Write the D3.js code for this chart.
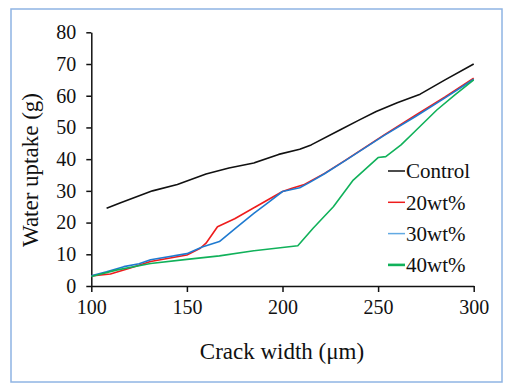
<!DOCTYPE html>
<meta charset="utf-8">
<style>
  body { margin: 0; background: #fff; }
  svg { display: block; }
  .axis path, .axis line { stroke: #111; stroke-width: 1.5; }
  .series { fill: none; stroke-width: 1.6; stroke-linejoin: round; }
</style>
<script src="https://d3js.org/d3.v7.min.js"></script>
<body>
<svg width="521" height="389"></svg>
</body>
<script>
// values
const seriesNames = ['Control', '20wt%', '30wt%', '40wt%'];
const colors = ['#111111', '#ee1c1c', '#1f7ad0', '#10b15a'];
const legendColors = ['#111111', '#ee1c1c', '#62aae3', '#10b15a'];
const xTicks = [100, 150, 200, 250, 300];
const yTicks = [0, 10, 20, 30, 40, 50, 60, 70, 80];

const control = [[108, 24.5], [115, 26.2], [132, 30], [145, 32], [160, 35.3], [172, 37.2], [185, 38.8], [198, 41.5], [209, 43.1], [215, 44.5], [230, 49.2], [240, 52.3], [249, 55], [260, 57.8], [272, 60.5], [285, 65], [300, 70]];
const wt20 = [[100, 3.2], [110, 3.8], [120, 5.6], [131, 7.7], [150, 9.8], [157, 11.9], [160, 13.5], [166, 18.7], [175, 21.2], [186, 25], [200, 29.8], [205, 30.8], [211, 31.9], [222, 35.5], [233, 39.7], [253, 47.6], [270, 54], [285, 59.6], [300, 65.5]];
const wt30 = [[100, 3.2], [108, 4.5], [117, 6.1], [125, 7], [131, 8.3], [150, 10.2], [158, 12.3], [167, 14], [176, 18.5], [185, 22.9], [193, 26.5], [200, 29.8], [209, 31], [214, 32.6], [222, 35.4], [233, 39.6], [253, 47.4], [270, 53.6], [285, 59.3], [300, 65.2]];
const wt40 = [[100, 3], [113, 5], [131, 7.1], [150, 8.4], [167, 9.5], [185, 11.1], [208, 12.7], [216, 18.2], [226.6, 25], [237, 33.4], [250, 40.5], [254, 40.8], [262, 44.5], [270, 49.2], [280.7, 55.5], [290, 60.2], [300, 65]];
const allSeries = [control, wt20, wt30, wt40];

const serif = 'Liberation Serif';

const svg = d3.select('svg');

// outer frame
svg.append('rect')
    .attr('x', 11).attr('y', 9)
    .attr('width', 491).attr('height', 373)
    .attr('fill', 'none')
    .attr('stroke', '#8fb4e3')
    .attr('stroke-width', 1.5);

const x = d3.scaleLinear().domain([100, 300]).range([91.3, 473.7]);
const y = d3.scaleLinear().domain([0, 80]).range([286, 32.3]);

svg.append('g')
    .attr('class', 'axis')
    .attr('transform', 'translate(0,286)')
    .call(d3.axisBottom(x).tickValues(xTicks).tickSize(6).tickSizeOuter(0).tickPadding(5))
    .attr('font-family', serif)
    .attr('font-size', 20)
    .selectAll('text').attr('dy', '0.85em').attr('fill', '#111');

svg.append('g')
    .attr('class', 'axis')
    .attr('transform', 'translate(91.3,0)')
    .call(d3.axisLeft(y).tickValues(yTicks).tickSize(5).tickSizeOuter(0).tickPadding(10))
    .attr('font-family', serif)
    .attr('font-size', 20)
    .selectAll('text').attr('fill', '#111');

svg.selectAll('.axis .domain').attr('stroke-width', 1.6);

// axis titles
svg.append('text')
    .attr('x', 282).attr('y', 359)
    .attr('text-anchor', 'middle')
    .attr('font-family', serif)
    .attr('font-size', 23)
    .attr('fill', '#111')
    .text('Crack width (μm)');

svg.append('text')
    .attr('transform', 'translate(38,170) rotate(-90)')
    .attr('text-anchor', 'middle')
    .attr('font-family', serif)
    .attr('font-size', 23)
    .attr('fill', '#111')
    .text('Water uptake (g)');

const line = d3.line().x(function(d) { return x(d[0]); }).y(function(d) { return y(d[1]); });

svg.append('g').selectAll('path')
    .data(allSeries)
  .enter().append('path')
    .attr('class', 'series')
    .attr('stroke', function(d, i) { return colors[i]; })
    .attr('d', line);

// legend
const legend = svg.append('g').selectAll('g')
    .data(seriesNames)
  .enter().append('g')
    .attr('transform', function(d, i) { return `translate(388,${171 + i * 31.3})`; });

legend.append('line')
    .attr('x1', 0).attr('x2', 17)
    .attr('stroke', function(d, i) { return legendColors[i]; })
    .attr('stroke-width', function(d, i) { return i === 3 ? 2.6 : 1.5; });

legend.append('text')
    .attr('x', 18).attr('dy', '0.35em')
    .attr('font-family', serif)
    .attr('font-size', 21)
    .attr('fill', '#111')
    .text(function(d) { return d; });
</script>
